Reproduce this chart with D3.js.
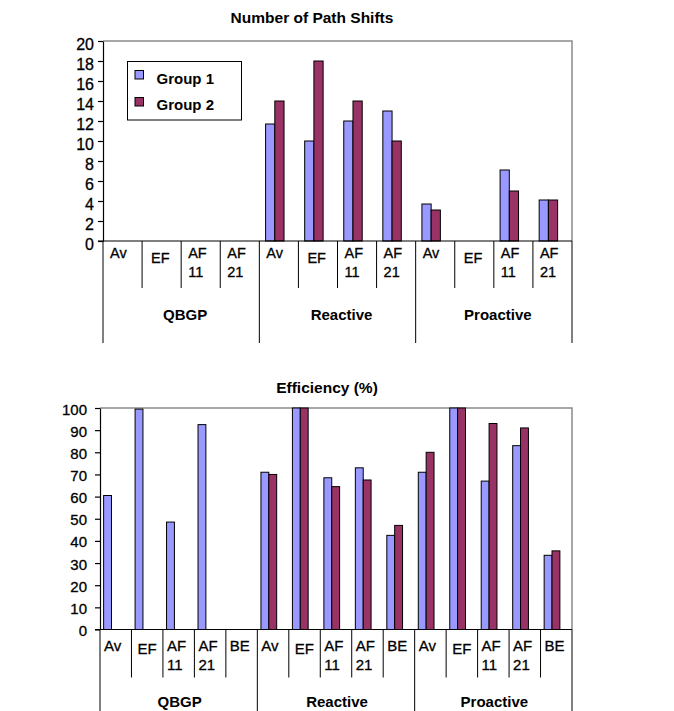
<!DOCTYPE html>
<html>
<head>
<meta charset="utf-8">
<script src="https://cdn.jsdelivr.net/npm/d3@7"></script>
<style>
  html, body { margin: 0; padding: 0; background: #fff; }
  svg { display: block; font-family: "Liberation Sans", Arial, sans-serif; }
  .reg { stroke: #000; stroke-width: 0.3px; }
</style>
</head>
<body>
<svg id="chart" width="674" height="711"></svg>
<script>
// ---------------- data ----------------
const groups = ["QBGP", "Reactive", "Proactive"];
const shiftCats = ["Av", "EF", "AF 11", "AF 21"];
const effCats = ["Av", "EF", "AF 11", "AF 21", "BE"];
const seriesNames = ["Group 1", "Group 2"];
const seriesColors = ["#9999FF", "#993366"];

// Number of Path Shifts (QBGP x4, Reactive x4, Proactive x4)
const shiftGroup1 = [null, null, null, null, 11.7, 10, 12, 13, 3.7, null, 7.1, 4.1];
const shiftGroup2 = [null, null, null, null, 14, 18, 14, 10, 3.1, null, 5, 4.1];
const shiftTicks = [0, 2, 4, 6, 8, 10, 12, 14, 16, 18, 20];

// Efficiency (%) (QBGP x5, Reactive x5, Proactive x5)
const effGroup1 = [60.5, 99.5, 48.5, 92.5, null, 71, 100, 68.5, 73, 42.5, 71, 100, 67, 83, 33.5];
const effGroup2 = [null, null, null, null, null, 70, 100, 64.5, 67.5, 47, 80, 100, 93, 91, 35.5];
const effTicks = [0, 10, 20, 30, 40, 50, 60, 70, 80, 90, 100];

// ---------------- drawing ----------------
const svg = d3.select("#chart");

function drawChart(cfg) {
  const g = svg.append("g");
  const cats = [];
  groups.forEach(gr => cfg.cats.forEach(c => cats.push({ group: gr, label: c })));
  const idx = d3.range(cats.length);

  const x = d3.scaleBand().domain(idx).range([cfg.left, cfg.right]).padding(0);
  const bw = x.bandwidth();
  const y = d3.scaleLinear().domain([0, cfg.max]).range([cfg.bottom, cfg.top]);

  // title
  g.append("text")
    .attr("x", cfg.titleX).attr("y", cfg.titleY)
    .attr("text-anchor", "middle")
    .attr("font-size", 15.5).attr("font-weight", "bold")
    .text(cfg.title);

  // plot frame: top and right gray
  g.append("path")
    .attr("d", `M${cfg.left},${cfg.top}H${cfg.right}V${cfg.bottom}`)
    .attr("fill", "none").attr("stroke", "#8a8a8a").attr("stroke-width", 1.5);

  // bars
  const series = [cfg.s1, cfg.s2];
  series.forEach((vals, si) => {
    g.append("g").selectAll("rect")
      .data(idx.filter(i => vals[i] != null))
      .join("rect")
      .attr("x", i => x(i) + cfg.barOff * bw + si * cfg.barW * bw)
      .attr("y", i => y(vals[i]))
      .attr("width", cfg.barW * bw)
      .attr("height", i => y(0) - y(vals[i]))
      .attr("fill", seriesColors[si])
      .attr("stroke", "#000").attr("stroke-width", 1);
  });

  // y axis
  const yAxis = d3.axisLeft(y).tickValues(cfg.ticks).tickSize(5).tickPadding(cfg.tickPad).tickSizeOuter(0);
  const ya = g.append("g").attr("transform", `translate(${cfg.left},0)`).call(yAxis);
  ya.select(".domain").attr("stroke", "#000").attr("stroke-width", 1.2);
  ya.selectAll(".tick line").attr("stroke", "#000").attr("stroke-width", 1.2);
  ya.selectAll(".tick text")
    .attr("class", "reg")
    .attr("font-family", "Liberation Sans, Arial, sans-serif")
    .attr("font-size", cfg.tickFont).attr("fill", "#000")
    .attr("dy", null).attr("y", cfg.tickDy);

  // x baseline
  g.append("line")
    .attr("x1", cfg.left - 5).attr("x2", cfg.right)
    .attr("y1", y(0)).attr("y2", y(0))
    .attr("stroke", "#000").attr("stroke-width", 1.2);

  // category dividers
  const k = cfg.cats.length;
  d3.range(cats.length + 1).forEach(i => {
    const xx = cfg.left + i * bw;
    g.append("line")
      .attr("x1", xx).attr("x2", xx)
      .attr("y1", y(0)).attr("y2", i % k === 0 ? cfg.longEnd : cfg.shortEnd)
      .attr("stroke", "#000").attr("stroke-width", 1);
  });

  // category labels
  cats.forEach((c, i) => {
    const lines = c.label.split(" ");
    const single = c.label === "EF";
    const t = g.append("text")
      .attr("class", "reg")
      .attr("font-size", cfg.catFont);
    lines.forEach((ln, li) => {
      t.append("tspan")
        .attr("x", x(i) + cfg.labOff + (single ? cfg.efDx : 0))
        .attr("y", (li === 0 ? cfg.lab1Y : cfg.lab2Y) + (single ? cfg.efDy : 0))
        .text(ln);
    });
  });

  // group labels
  groups.forEach((gr, gi) => {
    const x0 = x(gi * k), x1 = x(gi * k + k - 1) + bw;
    g.append("text")
      .attr("x", (x0 + x1) / 2 + cfg.groupDx)
      .attr("y", cfg.groupY)
      .attr("text-anchor", "middle")
      .attr("font-size", 15).attr("font-weight", "bold")
      .text(gr);
  });
}

drawChart({
  title: "Number of Path Shifts", titleX: 312, titleY: 23,
  cats: shiftCats, s1: shiftGroup1, s2: shiftGroup2, ticks: shiftTicks, max: 20,
  left: 103, right: 572, top: 41, bottom: 241,
  barOff: 0.16, barW: 0.236,
  tickFont: 16, tickPad: 4, tickDy: 8.5,
  catFont: 14.5, labOff: 7, efDx: 2, efDy: 5, lab1Y: 257.5, lab2Y: 277,
  shortEnd: 288, longEnd: 343, groupDx: 4, groupY: 319.5
});

drawChart({
  title: "Efficiency (%)", titleX: 327, titleY: 392.5,
  cats: effCats, s1: effGroup1, s2: effGroup2, ticks: effTicks, max: 100,
  left: 100, right: 572, top: 408, bottom: 629.5,
  barOff: 0.115, barW: 0.25,
  tickFont: 15, tickPad: 8, tickDy: 6,
  catFont: 15, labOff: 4, efDx: 2, efDy: 2.5, lab1Y: 651, lab2Y: 670,
  shortEnd: 677.5, longEnd: 711, groupDx: 1, groupY: 706.5
});

// legend (top chart)
const leg = svg.append("g");
leg.append("rect").attr("x", 127.5).attr("y", 61.5).attr("width", 114).attr("height", 58.5)
  .attr("fill", "#fff").attr("stroke", "#000").attr("stroke-width", 1);
seriesNames.forEach((name, i) => {
  leg.append("rect").attr("x", 135).attr("y", 70.5 + i * 27).attr("width", 8.5).attr("height", 8.5)
    .attr("fill", seriesColors[i]).attr("stroke", "#000").attr("stroke-width", 1);
  leg.append("text").attr("x", 156.5).attr("y", 83.5 + i * 26)
    .attr("font-size", 15).attr("font-weight", "bold").text(name);
});
</script>
</body>
</html>
